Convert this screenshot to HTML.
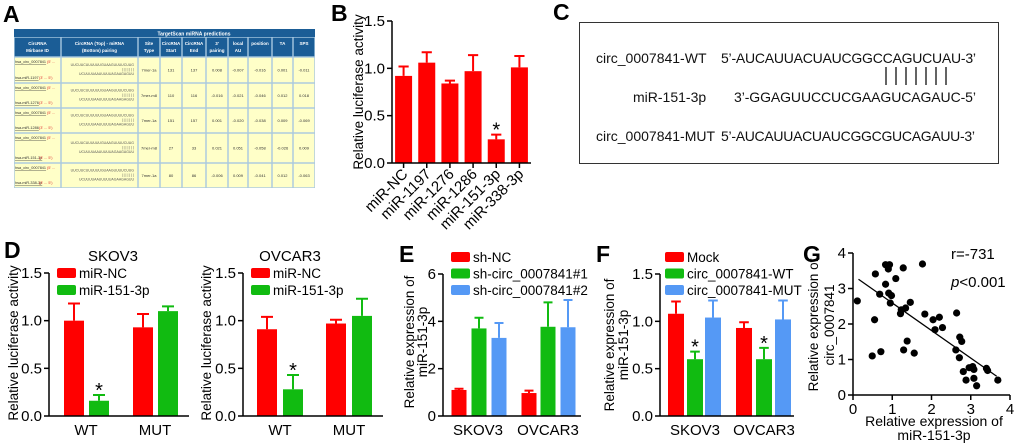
<!DOCTYPE html>
<html><head><meta charset="utf-8"><style>
html,body{margin:0;padding:0;background:#fff}
svg{display:block;font-family:"Liberation Sans",Arial,sans-serif}
</style></head><body>
<svg id="fig" width="1020" height="448" viewBox="0 0 1020 448" xmlns="http://www.w3.org/2000/svg">
<g id="pA"></g>
<g id="pB"></g>
<g id="pC">
 <text x="553" y="20" font-size="23" font-weight="bold">C</text>
 <rect x="579.5" y="22.5" width="419" height="141" fill="none" stroke="#333" stroke-width="1"/>
 <g font-size="14" fill="#111">
  <text x="596" y="63">circ_0007841-WT</text>
  <text x="721" y="63" textLength="255">5’-AUCAUUACUAUCGGCCAGUCUAU-3’</text>
  <text x="633" y="102">miR-151-3p</text>
  <text x="734" y="102" textLength="242">3’-GGAGUUCCUCGAAGUCAGAUC-5’</text>
  <text x="596" y="141">circ_0007841-MUT</text>
  <text x="721" y="141" textLength="254">5’-AUCAUUACUAUCGGCGUCAGAUU-3’</text>
 </g>
 <g id="pairs" stroke="#111" stroke-width="1.3"></g>
</g>
<g id="pD1"></g>
<g id="pD2"></g>
<g id="pE"></g>
<g id="pF"></g>
<g id="pG"></g>
</svg>
<script>
// ---------- data ----------
const bCategories = ["miR-NC","miR-1197","miR-1276","miR-1286","miR-151-3p","miR-338-3p"];
const bValues = [0.92,1.06,0.84,0.97,0.25,1.01];
const bErrors = [0.10,0.11,0.03,0.17,0.05,0.12];
const bTicks = [0,0.5,1.0,1.5];

const dGroups = ["WT","MUT"];
const dSeries = ["miR-NC","miR-151-3p"];
const dSkovNC = [1.00,0.93];
const dSkovNCErr = [0.18,0.14];
const dSkovMir = [0.16,1.10];
const dSkovMirErr = [0.06,0.05];
const dOvcNC = [0.91,0.97];
const dOvcNCErr = [0.13,0.04];
const dOvcMir = [0.28,1.05];
const dOvcMirErr = [0.15,0.18];
const dTicks = [0,0.5,1.0,1.5];

const eGroups = ["SKOV3","OVCAR3"];
const eSeries = ["sh-NC","sh-circ_0007841#1","sh-circ_0007841#2"];
const eNC = [1.10,0.97];
const eNCErr = [0.05,0.10];
const eSh1 = [3.70,3.77];
const eSh1Err = [0.45,1.03];
const eSh2 = [3.30,3.75];
const eSh2Err = [0.63,1.15];
const eTicks = [0,2,4,6];

const fGroups = ["SKOV3","OVCAR3"];
const fSeries = ["Mock","circ_0007841-WT","circ_0007841-MUT"];
const fMock = [1.08,0.93];
const fMockErr = [0.13,0.06];
const fWT = [0.60,0.60];
const fWTErr = [0.08,0.12];
const fMUT = [1.04,1.02];
const fMUTErr = [0.18,0.20];
const fTicks = [0,0.5,1.0,1.5];

const gX = [0.11,0.57,0.55,0.49,0.71,0.68,0.83,0.83,0.93,0.90,0.91,0.98,0.95,1.09,1.28,1.21,1.23,1.34,1.46,1.38,1.29,1.56,1.77,1.83,2.04,2.09,2.20,2.28,2.64,2.72,2.77,2.62,2.71,2.81,2.88,2.96,3.05,3.08,3.08,3.15,3.40,3.43,3.69];
const gY = [2.65,3.41,2.12,1.10,1.22,2.84,3.12,3.67,3.67,3.55,2.87,2.80,2.59,3.28,3.58,2.29,2.40,2.45,2.61,1.52,1.27,1.18,3.69,2.28,2.12,1.84,2.19,1.90,2.31,1.63,1.51,1.27,1.05,0.66,0.42,0.77,0.80,0.72,0.47,0.26,0.75,0.69,0.42];
const gTicks = [0,1,2,3,4];

const aHeaders = ["CircRNA\nMirbase ID","CircRNA (Top) - miRNA\n(Bottom) pairing","Site\nType","CircRNA\nStart","CircRNA\nEnd","3'\npairing","local\nAU","position","TA","SPS"];
const aMirs = ["hsa-miR-1197","hsa-miR-1276","hsa-miR-1286","hsa-miR-151-3p","hsa-miR-338-3p"];
const aSite = ["7mer-1a","7mer-m8","7mer-1a","7mer-m8","7mer-1a"];
const aStart = ["131","110","151","27","80"];
const aEnd = ["137","116","157","33","86"];
const aPair = ["0.008","-0.016","0.001","0.021","-0.006"];
const aAU = ["-0.007","-0.021","-0.020","0.051","0.009"];
const aPos = ["-0.016","-0.046","-0.038","-0.058","-0.041"];
const aTA = ["0.001","0.012","0.009","-0.026","0.012"];
const aSPS = ["-0.011","0.018","-0.069","0.009","-0.063"];

// ---------- helpers ----------
const NS="http://www.w3.org/2000/svg";
function mk(parent,tag,attrs,txt){const e=document.createElementNS(NS,tag);for(const k in attrs)e.setAttribute(k,attrs[k]);if(txt!==undefined)e.textContent=txt;parent.appendChild(e);return e;}
const RED="#ff0000",GREEN="#11bb11",BLUE="#5599f5";

function yAxis(g,x,y0,y1,ticks,scale,fmt){
  const ax=mk(g,"line",{x1:x,y1:y0,x2:x,y2:y1,stroke:"#000","stroke-width":1.5});
  
  
  ticks.forEach(t=>{const y=scale(t);
    const tk=mk(g,"line",{x1:x-5,y1:y,x2:x,y2:y,stroke:"#000","stroke-width":1.5});
    
    
    const tl=mk(g,"text",{x:x-7,y:y+5,"font-size":15,"text-anchor":"end"},fmt(t));
    
    
  });
}
function vlabel(g,lines,xs,cy,name){
  lines.forEach((s,i)=>{const t=mk(g,"text",{x:0,y:0,"font-size":13.5,"text-anchor":"middle",transform:`translate(${xs[i]},${cy}) rotate(-90)`},s);
    
    });
}
function bar(g,cx,w,v,err,scale,color,name){
  const y=scale(v),y0=scale(0),ye=scale(v+err);
  const r=mk(g,"rect",{x:cx-w/2,y:y,width:w,height:y0-y,fill:color});
  
  
  const e=mk(g,"path",{d:`M${cx},${y}V${ye}M${cx-w*0.3},${ye}H${cx+w*0.3}`,stroke:color,"stroke-width":2,fill:"none"});
  
  
}
function star(g,cx,y){const s=mk(g,"text",{x:cx,y:y+6,"font-size":20,"text-anchor":"middle"},"*");
  
  }
function letter(g,x,y,s){const t=mk(g,"text",{x:x,y:y,"font-size":23,"font-weight":"bold"},s);
  
  }
function legend(g,x,y,dy,names,colors){
  names.forEach((n,i)=>{
    const r=mk(g,"rect",{x:x,y:y+i*dy-5,width:19,height:10,rx:2,fill:colors[i]});
    
    
    const t=mk(g,"text",{x:x+22,y:y+i*dy+5,"font-size":13.5},n);
    
    
  });
}
function fmt1(t){return t.toFixed(1);}

// ---------- panel A ----------
(function(){
  const g=document.getElementById("pA");
  letter(g,3,22,"A");
  const cols=[14,61,138,160,182,206,228,248,272,293,315];
  const rows=[57,83,108,133,163,188];
  mk(g,"rect",{x:14,y:29,width:301,height:159,fill:"#a8c8e0"});
  const h1=mk(g,"rect",{x:14,y:29,width:301,height:8,fill:"#1b5d96"});
  
  
  const tt=mk(g,"text",{x:194,y:35.5,"font-size":5,fill:"#fff","font-weight":"bold","text-anchor":"middle"},"TargetScan miRNA predictions");
  
  
  for(let c=0;c<10;c++){
    const hc=mk(g,"rect",{x:cols[c]+0.7,y:37.7,width:cols[c+1]-cols[c]-1.4,height:18.6,fill:"#1b5d96"});
    
    
    aHeaders[c].split("\n").forEach((s,i)=>{const t=mk(g,"text",{x:(cols[c]+cols[c+1])/2,y:45+i*7,"font-size":4.5,fill:"#fff","font-weight":"bold","text-anchor":"middle"},s);
      
      });
  }
  const vals=[aSite,aStart,aEnd,aPair,aAU,aPos,aTA,aSPS];
  for(let r=0;r<5;r++){
    for(let c=0;c<10;c++){
      const cell=mk(g,"rect",{x:cols[c]+0.7,y:rows[r]+0.7,width:cols[c+1]-cols[c]-1.4,height:rows[r+1]-rows[r]-1.4,fill:"#ffffc8"});
      
      
    }
    const my=(rows[r]+rows[r+1])/2;
    const t1=mk(g,"text",{x:15,y:rows[r]+6,"font-size":3.8,fill:"#333","text-decoration":"underline"},"hsa_circ_0007841");
    
    
    mk(g,"text",{x:47,y:rows[r]+6,"font-size":3.8,fill:"#e03030"},"(5' ...");
    const t2=mk(g,"text",{x:15,y:rows[r+1]-4,"font-size":3.8,fill:"#333","text-decoration":"underline"},aMirs[r]);
    
    
    mk(g,"text",{x:39,y:rows[r+1]-4,"font-size":3.8,fill:"#e03030"},"(3' ... 5')");
    ["UUCUUCUUUUUUGUAAGUUUUCUUG","| | | | | | |","UCUUUUAAUUUUUAGAAGAGUU"].forEach((s,i)=>{
      const p=mk(g,"text",{x:134,y:my-4+i*4.5,"font-size":3.5,fill:"#555","text-anchor":"end"},s);
      
      });
    vals.forEach((arr,k)=>{const c=k+2;
      const t=mk(g,"text",{x:(cols[c]+cols[c+1])/2,y:my+1.5,"font-size":4,fill:"#333","text-anchor":"middle"},arr[r]);
      
      });
  }
})();

// ---------- panel B ----------
(function(){
  const g=document.getElementById("pB");
  letter(g,331,21,"B");
  const ax=392,y0=163,y1=21,x1=531;
  const sy=v=>y0-(v/1.5)*(y0-y1);
  const step=(x1-ax)/bCategories.length;
  const sx=i=>ax+step*(i+0.5);
  bCategories.forEach((c,i)=>{
    bar(g,sx(i),17,bValues[i],bErrors[i],sy,RED,'bar-'+c);
    const tk=mk(g,"line",{x1:sx(i),y1:y0,x2:sx(i),y2:y0+5,stroke:"#000","stroke-width":1.5});
    
    
    const t=mk(g,"text",{x:0,y:0,"font-size":15,"text-anchor":"end",transform:`translate(${sx(i)+5},${y0+12}) rotate(-45)`},c);
    
    
  });
  bValues.forEach((v,i)=>{if(bCategories[i]==="miR-151-3p")star(g,sx(i),sy(v+bErrors[i])-4);});
  const xa=mk(g,"line",{x1:ax,y1:y0,x2:x1,y2:y0,stroke:"#000","stroke-width":1.5});
  
  
  yAxis(g,ax,y0,y1,bTicks,sy,fmt1);
  vlabel(g,["Relative luciferase activity"],[363],92,'y-axis-title');
})();

// pairing lines in C
(function(){const g=document.getElementById("pairs");
  for(let i=0;i<7;i++){const x=886+i*10;const l=mk(g,"line",{x1:x,y1:67,x2:x,y2:85});
    
    }})();

// ---------- grouped bar helper ----------
function grouped(g,cfg){
  const sy=v=>cfg.y0-(v/cfg.max)*(cfg.y0-cfg.y1);
  cfg.groups.forEach((gr,gi)=>{
    cfg.series.forEach((s,si)=>{
      const cx=cfg.centers[gi][si];
      bar(g,cx,cfg.bw,cfg.vals[si][gi],cfg.errs[si][gi],sy,cfg.colors[si],'bar-'+gr+'-'+s);
      if(cfg.stars && cfg.stars[si][gi])star(g,cx,sy(cfg.vals[si][gi]+cfg.errs[si][gi])-4);
    });
    const t=mk(g,"text",{x:cfg.labelX[gi],y:cfg.y0+19,"font-size":15,"text-anchor":"middle"},gr);
    
    
  });
  const xa=mk(g,"line",{x1:cfg.ax,y1:cfg.y0,x2:cfg.x1,y2:cfg.y0,stroke:"#000","stroke-width":1.5});
  
  
  yAxis(g,cfg.ax,cfg.y0,cfg.y1,cfg.ticks,sy,cfg.fmt);
}

// ---------- panel D ----------
(function(){
  const g=document.getElementById("pD1");
  letter(g,4,258,"D");
  const t=mk(g,"text",{x:113,y:261,"font-size":15,"text-anchor":"middle"},"SKOV3");
  
  
  grouped(g,{groups:dGroups,series:dSeries,vals:[dSkovNC,dSkovMir],errs:[dSkovNCErr,dSkovMirErr],
    colors:[RED,GREEN],centers:[[74,99],[143,168]],bw:20,ax:49,x1:189,y0:416,y1:273,max:1.5,ticks:dTicks,fmt:fmt1,
    labelX:[86,155],stars:[[0,0],[1,0]]});
  legend(g,57,273,17,dSeries,[RED,GREEN]);
  vlabel(g,["Relative luciferase activity"],[18],343,'y-axis-title');
})();
(function(){
  const g=document.getElementById("pD2");
  const t=mk(g,"text",{x:290,y:261,"font-size":15,"text-anchor":"middle"},"OVCAR3");
  
  
  grouped(g,{groups:dGroups,series:dSeries,vals:[dOvcNC,dOvcMir],errs:[dOvcNCErr,dOvcMirErr],
    colors:[RED,GREEN],centers:[[267,293],[336,362]],bw:20,ax:243,x1:383,y0:416,y1:273,max:1.5,ticks:dTicks,fmt:fmt1,
    labelX:[280,349],stars:[[0,0],[1,0]]});
  legend(g,251,273,17,dSeries,[RED,GREEN]);
  vlabel(g,["Relative luciferase activity"],[211],343,'y-axis-title');
})();

// ---------- panel E ----------
(function(){
  const g=document.getElementById("pE");
  letter(g,399,262,"E");
  grouped(g,{groups:eGroups,series:eSeries,vals:[eNC,eSh1,eSh2],errs:[eNCErr,eSh1Err,eSh2Err],
    colors:[RED,GREEN,BLUE],centers:[[459,479,499],[529,548,568]],bw:15,ax:443,x1:581,y0:416,y1:274,max:6,ticks:eTicks,fmt:t=>String(t),
    labelX:[478,548]});
  legend(g,451,257,16.5,eSeries,[RED,GREEN,BLUE]);
  vlabel(g,["Relative expression of","miR-151-3p"],[414,427],342,'y-axis-title');
})();

// ---------- panel F ----------
(function(){
  const g=document.getElementById("pF");
  letter(g,596,262,"F");
  grouped(g,{groups:fGroups,series:fSeries,vals:[fMock,fWT,fMUT],errs:[fMockErr,fWTErr,fMUTErr],
    colors:[RED,GREEN,BLUE],centers:[[676,695,713],[744,764,783]],bw:16,ax:660,x1:794,y0:416,y1:274,max:1.5,ticks:fTicks,fmt:fmt1,
    labelX:[695,764],stars:[[0,0],[1,1],[0,0]]});
  legend(g,665,257,16.5,fSeries,[RED,GREEN,BLUE]);
  vlabel(g,["Relative expression of","miR-151-3p"],[614,628],345,'y-axis-title');
})();

// ---------- panel G ----------
(function(){
  const g=document.getElementById("pG");
  letter(g,803,262,"G");
  const ax=853,ax1=1010,y0=395,y1=253;
  const sx=v=>ax+(v/4)*(ax1-ax), sy=v=>y0-(v/4)*(y0-y1);
  const xa=mk(g,"line",{x1:ax,y1:y0,x2:ax1,y2:y0,stroke:"#000","stroke-width":1.5});
  
  
  gTicks.forEach(t=>{
    const tk=mk(g,"line",{x1:sx(t),y1:y0,x2:sx(t),y2:y0+5,stroke:"#000","stroke-width":1.5});
    
    
    const tl=mk(g,"text",{x:sx(t),y:y0+19,"font-size":15,"text-anchor":"middle"},String(t));
    
    
  });
  yAxis(g,ax,y0,y1,gTicks,sy,t=>String(t));
  const n=gX.length,mx=gX.reduce((a,b)=>a+b)/n,my=gY.reduce((a,b)=>a+b)/n;
  let sxy=0,sxx=0;for(let i=0;i<n;i++){sxy+=(gX[i]-mx)*(gY[i]-my);sxx+=(gX[i]-mx)**2;}
  const b=sxy/sxx,a=my-b*mx;
  const xmin=Math.min(...gX)+0.03,xmax=Math.max(...gX)-0.03;
  const rl=mk(g,"line",{x1:sx(xmin),y1:sy(a+b*xmin),x2:sx(xmax),y2:sy(a+b*xmax),stroke:"#000","stroke-width":1.3});
  
  
  gX.forEach((x,i)=>{const c=mk(g,"circle",{cx:sx(x),cy:sy(gY[i]),r:3.6,fill:"#000"});
    
    });
  const r=mk(g,"text",{x:951,y:259,"font-size":15},"r=-731");
  
  
  const p=mk(g,"text",{x:951,y:287,"font-size":15});
  
  
  mk(p,"tspan",{"font-style":"italic"},"p");mk(p,"tspan",{},"<0.001");
  const l1=mk(g,"text",{x:934,y:426,"font-size":14,"text-anchor":"middle"},"Relative expression of");
  
  
  const l2=mk(g,"text",{x:934,y:440,"font-size":14,"text-anchor":"middle"},"miR-151-3p");
  
  
  vlabel(g,["Relative expression of","circ_0007841"],[818,834],325,'y-axis-title');
})();
</script>
</body></html>
